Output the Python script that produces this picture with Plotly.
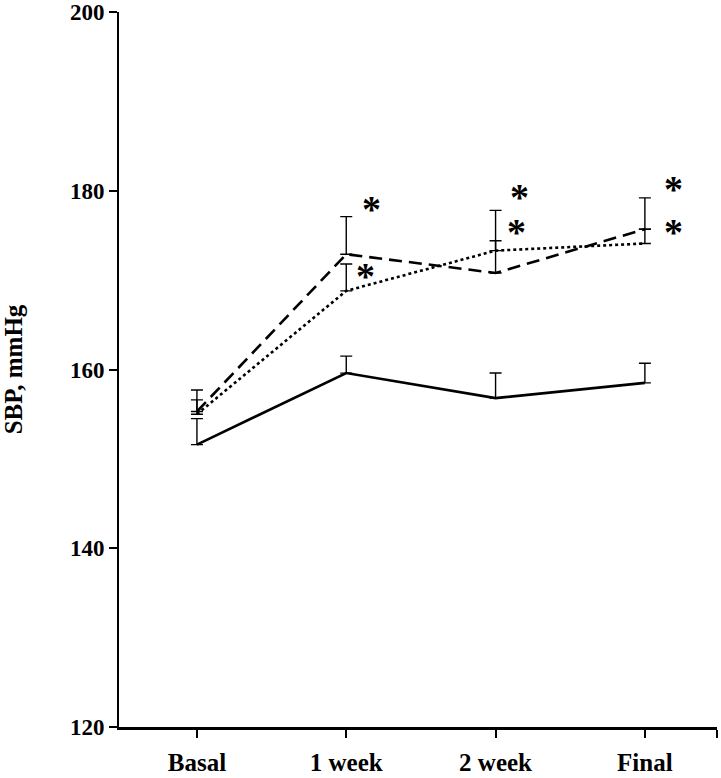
import plotly.graph_objects as go

categories = ["Basal", "1 week", "2 week", "Final"]
x_pos = [0, 1, 2, 3]

solid_vals = [151.6, 159.6, 156.8, 158.5]
solid_err = [2.9, 1.9, 2.8, 2.2]

dashed_vals = [155.3, 172.9, 170.8, 175.7]
dashed_err = [2.4, 4.2, 3.6, 3.5]

dotted_vals = [155.0, 168.8, 173.3, 174.1]
dotted_err = [1.6, 3.0, 4.5, 1.6]

star_x = [1.17, 1.13, 2.16, 2.14, 3.19, 3.19]
star_y = [178.4, 170.9, 179.7, 175.8, 180.6, 175.8]

y_ticks = [120, 140, 160, 180, 200]

FONT = "Liberation Serif"

fig = go.Figure()

def add_series(vals, err, dash):
    fig.add_trace(go.Scatter(
        x=x_pos, y=vals, mode="lines",
        line=dict(color="black", width=2.6, dash=dash),
        error_y=dict(type="data", symmetric=False, array=err,
                     arrayminus=[0] * len(err), color="black",
                     thickness=1.4, width=6),
        showlegend=False, hoverinfo="skip",
    ))

add_series(solid_vals, solid_err, "solid")
add_series(dashed_vals, dashed_err, "13px,7px")
add_series(dotted_vals, dotted_err, "3px,3px")

for sx, sy in zip(star_x, star_y):
    fig.add_annotation(x=sx, y=sy, text="<b>*</b>", showarrow=False,
                       xanchor="center", yanchor="middle", yshift=-4,
                       font=dict(family=FONT, size=38, color="black"))

fig.update_layout(
    width=721, height=778,
    margin=dict(l=119, r=4, t=12, b=51, autoexpand=False),
    paper_bgcolor="white", plot_bgcolor="white",
    font=dict(family=FONT, color="black"),
    xaxis=dict(
        range=[-0.522, 3.483], automargin=False,
        tickmode="array", tickvals=x_pos + [3.483],
        ticktext=["<b>%s</b>" % c for c in categories] + [""],
        ticks="outside", ticklen=8, tickwidth=1.5, tickcolor="black",
        ticklabelstandoff=3,
        showline=True, linecolor="black", linewidth=2.5,
        showgrid=False, zeroline=False,
        tickfont=dict(family=FONT, size=25, color="black"),
    ),
    yaxis=dict(
        range=[120, 200], automargin=False,
        tickmode="array", tickvals=y_ticks,
        ticktext=["<b>%d</b>" % v for v in y_ticks],
        ticks="outside", ticklen=8, tickwidth=1.5, tickcolor="black",
        showline=True, linecolor="black", linewidth=2,
        showgrid=False, zeroline=False,
        tickfont=dict(family=FONT, size=23, color="black"),
        title=dict(text="<b>SBP, mmHg</b>", standoff=40,
                   font=dict(family=FONT, size=25, color="black")),
    ),
)

# remove the default 8px page margin so the figure fills the window exactly
fig.write_html("out.html", config={"displayModeBar": False},
               post_script="document.body.style.margin='0';")
